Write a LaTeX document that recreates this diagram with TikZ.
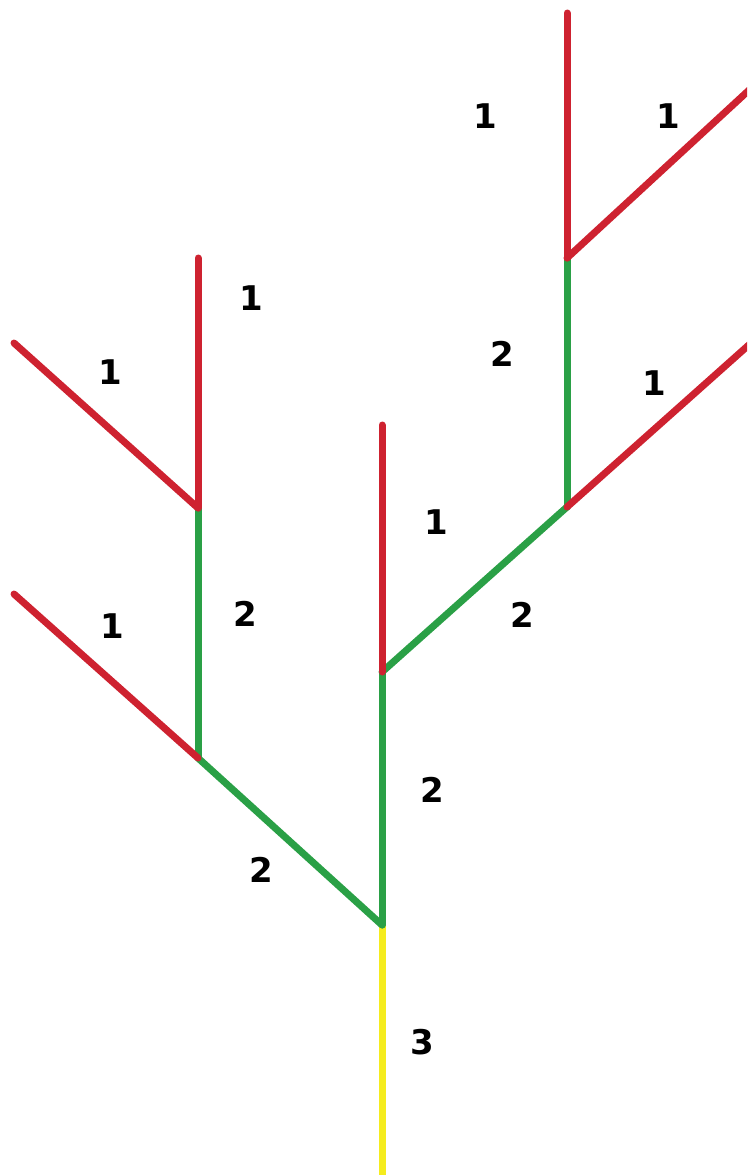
\documentclass[tikz,border=0pt]{standalone}
\usepackage{fontspec}
\setmainfont{DejaVu Sans}
\definecolor{treered}{RGB}{206,34,48}
\definecolor{treegreen}{RGB}{42,160,70}
\definecolor{treeyellow}{RGB}{245,236,30}
\begin{document}
\begin{tikzpicture}[x=1pt,y=-1pt,
  seg/.style={line width=7pt,line cap=round,line join=round},
  lbl/.style={font=\fontsize{34}{40}\selectfont\bfseries,inner sep=0pt}]
\useasboundingbox (0,0) rectangle (747,1175);
\clip (0,0) rectangle (747,1175);
\fill[white] (0,0) rectangle (747,1175);
% points
\coordinate (root) at (382,1190);
\coordinate (A) at (382,925);
\coordinate (B) at (198,758);
\coordinate (C) at (382,672);
\coordinate (D) at (198,508);
\coordinate (Bl) at (14,594);
\coordinate (Dt) at (198,258);
\coordinate (Dl) at (14,343);
\coordinate (Ct) at (382,425);
\coordinate (E) at (567,507);
\coordinate (F) at (567,258);
\coordinate (Er) at (760,335);
\coordinate (Ft) at (567,13);
\coordinate (Fr) at (760,80);
% segments
\draw[seg,treeyellow] (root) -- (A);
\draw[seg,treegreen] (A) -- (B);
\draw[seg,treegreen] (A) -- (C);
\draw[seg,treegreen] (B) -- (D);
\draw[seg,treegreen] (C) -- (E);
\draw[seg,treegreen] (E) -- (F);
\draw[seg,treered] (B) -- (Bl);
\draw[seg,treered] (D) -- (Dl);
\draw[seg,treered] (D) -- (Dt);
\draw[seg,treered] (C) -- (Ct);
\draw[seg,treered] (E) -- (Er);
\draw[seg,treered] (F) -- (Ft);
\draw[seg,treered] (F) -- (Fr);
% labels
\node[lbl] (l3) at (422,1042) {3};
\node[lbl] (lA) at (432,790) {2};
\node[lbl] (lAB) at (261,870) {2};
\node[lbl] (lBD) at (245,614) {2};
\node[lbl] (lBl) at (112,626) {1};
\node[lbl] (lDl) at (110,372) {1};
\node[lbl] (lDt) at (251,298) {1};
\node[lbl] (lCt) at (436,522) {1};
\node[lbl] (lCE) at (522,615) {2};
\node[lbl] (lEr) at (654,383) {1};
\node[lbl] (lEF) at (502,354) {2};
\node[lbl] (lFl) at (485,116) {1};
\node[lbl] (lFr) at (668,116) {1};
\end{tikzpicture}
\end{document}
